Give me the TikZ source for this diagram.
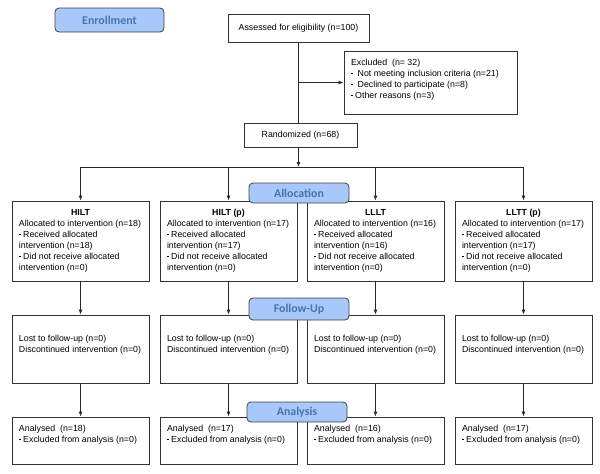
\documentclass[tikz,border=0pt]{standalone}
\usepackage{fontspec}
\setmainfont{Liberation Sans}
\newfontfamily\stagefont{Carlito}
\usetikzlibrary{arrows.meta}
\definecolor{stagefill}{RGB}{168,200,250}
\definecolor{stagetext}{RGB}{72,116,178}
\definecolor{stageline}{RGB}{64,64,64}
\definecolor{boxline}{RGB}{50,50,50}
\newcommand{\dsh}{\raisebox{0.6ex}{\rule{1.8pt}{0.5pt}}}
\newcommand{\cbox}[4]{\parbox[c][#1][t]{#2}{\vspace*{#3}\raggedright #4}}
\begin{document}
\begin{tikzpicture}[x=1pt,y=-1pt,
 box/.style={draw=boxline, line width=0.8pt, inner sep=0pt, fill=white, font=\fontsize{8.8}{11}\selectfont},
 stage/.style={draw=stageline, line width=0.8pt, fill=stagefill, rounded corners=4pt, inner sep=0pt, font=\stagefont\bfseries\fontsize{11.9}{14}\selectfont, text=stagetext},
 conn/.style={line width=0.9pt, draw=black!85},
 arr/.style={conn, -{Latex[length=5pt,width=4pt]}}]
\useasboundingbox (0,0) rectangle (600,474);

\node[box, minimum width=141pt, minimum height=28pt] (assess) at (298.5,28) {Assessed for eligibility (n=100)};
\node[box, minimum width=173pt, minimum height=63pt] (excl) at (430.5,82.5) {\cbox{63pt}{159pt}{8pt}{Excluded\ \ (n=\ 32)\\ \dsh\ \ Not meeting inclusion criteria (n=21)\\ \dsh\ \ Declined to participate (n=8)\\ \dsh\ Other reasons (n=3)}};
\node[box, minimum width=113pt, minimum height=24pt] (rand) at (300.5,135) {Randomized (n=68)};

% allocation row
\node[box, minimum width=137pt, minimum height=80pt] (a1) at (80.5,241) {\cbox{80pt}{123pt}{8pt}{\centerline{\bfseries HILT}Allocated to intervention (n=18)\\\dsh\ Received allocated\\intervention (n=18)\\\dsh\ Did not receive allocated\\intervention (n=0)}};
\node[box, minimum width=137pt, minimum height=80pt] (a2) at (228.5,241) {\cbox{80pt}{123pt}{8pt}{\centerline{\bfseries HILT (p)}Allocated to intervention (n=17)\\\dsh\ Received allocated\\intervention (n=17)\\\dsh\ Did not receive allocated\\intervention (n=0)}};
\node[box, minimum width=137pt, minimum height=80pt] (a3) at (375.5,241) {\cbox{80pt}{123pt}{8pt}{\centerline{\bfseries LLLT}Allocated to intervention (n=16)\\\dsh\ Received allocated\\intervention (n=16)\\\dsh\ Did not receive allocated\\intervention (n=0)}};
\node[box, minimum width=137pt, minimum height=80pt] (a4) at (523.5,241) {\cbox{80pt}{123pt}{8pt}{\centerline{\bfseries LLTT (p)}Allocated to intervention (n=17)\\\dsh\ Received allocated\\intervention (n=17)\\\dsh\ Did not receive allocated\\intervention (n=0)}};

% follow-up row
\node[box, minimum width=137pt, minimum height=68pt] (f1) at (80.5,349) {\cbox{68pt}{123pt}{20pt}{Lost to follow-up (n=0)\\Discontinued intervention (n=0)}};
\node[box, minimum width=137pt, minimum height=68pt] (f2) at (228.5,349) {\cbox{68pt}{123pt}{20pt}{Lost to follow-up (n=0)\\Discontinued intervention (n=0)}};
\node[box, minimum width=137pt, minimum height=68pt] (f3) at (375.5,349) {\cbox{68pt}{123pt}{20pt}{Lost to follow-up (n=0)\\Discontinued intervention (n=0)}};
\node[box, minimum width=137pt, minimum height=68pt] (f4) at (523.5,349) {\cbox{68pt}{123pt}{20pt}{Lost to follow-up (n=0)\\Discontinued intervention (n=0)}};

% analysis row
\node[box, minimum width=137pt, minimum height=47pt] (n1) at (80.5,440.5) {\cbox{47pt}{123pt}{7.7pt}{Analysed\ \ (n=18)\\\dsh\ Excluded from analysis (n=0)}};
\node[box, minimum width=137pt, minimum height=47pt] (n2) at (228.5,440.5) {\cbox{47pt}{123pt}{7.7pt}{Analysed\ \ (n=17)\\\dsh\ Excluded from analysis (n=0)}};
\node[box, minimum width=137pt, minimum height=47pt] (n3) at (375.5,440.5) {\cbox{47pt}{123pt}{7.7pt}{Analysed\ \ (n=16)\\\dsh\ Excluded from analysis (n=0)}};
\node[box, minimum width=137pt, minimum height=47pt] (n4) at (523.5,440.5) {\cbox{47pt}{123pt}{7.7pt}{Analysed\ \ (n=17)\\\dsh\ Excluded from analysis (n=0)}};

% connectors
\coordinate (split) at (298.5,167);
\draw[conn] (assess.south) -- (assess.south |- rand.north);
\draw[arr] (assess.south |- excl.west) -- (excl.west);
\draw[arr] (assess.south |- rand.south) -- (split);
\draw[conn] (a1.north |- split) -- (a4.north |- split);
\foreach \i in {1,2,3,4}{
  \draw[arr] (a\i.north |- split) -- (a\i.north);
  \draw[arr] (a\i.south) -- (f\i.north);
  \draw[arr] (f\i.south) -- (n\i.north);
}

% stage labels
\node[stage, minimum width=109pt, minimum height=24pt] (enr) at (109.5,20) {Enrollment};
\node[stage, minimum width=100pt, minimum height=20pt] (alloc) at (299,193) {Allocation};
\node[stage, minimum width=100pt, minimum height=22pt] (fup) at (299,309) {Follow-Up};
\node[stage, minimum width=100pt, minimum height=20pt] (ana) at (297,412) {Analysis};
\end{tikzpicture}
\end{document}
